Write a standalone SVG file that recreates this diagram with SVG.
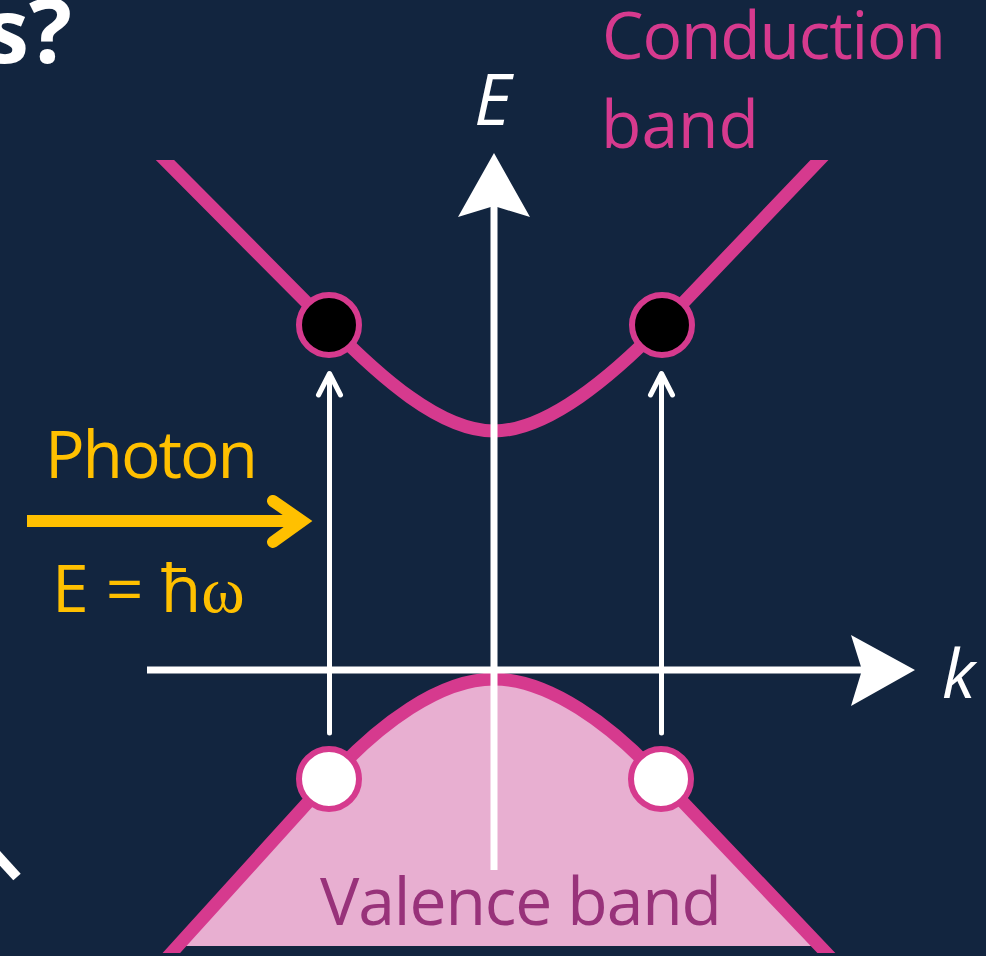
<svg xmlns="http://www.w3.org/2000/svg" width="986" height="956" viewBox="0 0 986 956">
  <style>
    .band { fill: none; stroke: #D63A8E; stroke-width: 13; stroke-linejoin: round; }
    .dot { stroke: #D63A8E; stroke-width: 6; }
    .axis { stroke: #FFFFFF; stroke-width: 7; fill: none; }
    .head { fill: #FFFFFF; stroke: none; }
    .trans { stroke: #FFFFFF; stroke-width: 5; fill: none; stroke-linecap: round; stroke-linejoin: round; }
    .lbl { font-family: "Open Sans", "Liberation Sans", sans-serif; font-size: 66px; }
    .ax { font-family: "Open Sans", "Liberation Sans", sans-serif; font-style: italic; fill: #FFFFFF; }
  </style>
  <defs>
    <clipPath id="clipTop"><rect x="0" y="160" width="986" height="796"/></clipPath>
    <clipPath id="clipBot"><rect x="0" y="0" width="986" height="953"/></clipPath>
  </defs>
  <rect width="986" height="956" fill="#12253F"/>

  <g id="title-fragment">
    <text x="72" y="63" text-anchor="end" font-family="'Open Sans', 'Liberation Sans', sans-serif" font-weight="bold" font-size="90" fill="#FFFFFF">s?</text>
    <line x1="-14" y1="843" x2="17" y2="877" stroke="#FFFFFF" stroke-width="10"/>
  </g>

  <g id="valence-band">
    <path d="M177,946 L329,779 C379,724 440,679 494,679 C548,679 611,724 661,779 L819,946 Z" fill="#E8AFD1"/>
    <path class="band" clip-path="url(#clipBot)" d="M165,960 L329,779 C379,724 440,679 494,679 C548,679 611,724 661,779 L833,960"/>
  </g>

  <g id="conduction-band">
    <path class="band" clip-path="url(#clipTop)" d="M155,150 L329,325 C379,376 440,431 494,431 C548,431 612,376 662,325 L829,150"/>
  </g>

  <g id="connectors">
    <line class="axis" x1="147" y1="670" x2="866" y2="670"/>
    <polygon class="head" points="915,670 851,635 862,670 851,706"/>
    <line class="axis" x1="494" y1="870" x2="494" y2="205"/>
    <polygon class="head" points="494,153 458,217 494,206 530,217"/>
    <line class="trans" x1="329.5" y1="733" x2="329.5" y2="376" stroke-linecap="butt"/>
    <polyline class="trans" points="318.5,395 329.5,373.5 340.5,395"/>
    <line class="trans" x1="661.5" y1="733" x2="661.5" y2="376" stroke-linecap="butt"/>
    <polyline class="trans" points="650.5,395 661.5,373.5 672.5,395"/>
    <line x1="27" y1="521" x2="300" y2="521" stroke="#FFC000" stroke-width="12"/>
    <polyline points="273,501 302,521 273,542" fill="none" stroke="#FFC000" stroke-width="12" stroke-linecap="round" stroke-linejoin="miter"/>
  </g>

  <g id="electron-left"><circle class="dot" cx="329" cy="325" r="30" fill="#000000"/></g>
  <g id="electron-right"><circle class="dot" cx="662" cy="325" r="30" fill="#000000"/></g>
  <g id="hole-left"><circle class="dot" cx="329" cy="779" r="30" fill="#FFFFFF"/></g>
  <g id="hole-right"><circle class="dot" cx="661" cy="779" r="30" fill="#FFFFFF"/></g>

  <g id="label-E"><text class="ax" x="474" y="125" font-size="72">E</text></g>
  <g id="label-k"><text class="ax" x="942" y="698" font-size="68">k</text></g>

  <g id="label-conduction">
    <text class="lbl" x="602" y="59" fill="#D63A8E" textLength="344">Conduction</text>
    <text class="lbl" x="601" y="148" fill="#D63A8E">band</text>
  </g>
  <g id="label-valence">
    <text class="lbl" x="320" y="925" fill="#98327A" textLength="402">Valence band</text>
  </g>
  <g id="photon">
    <text class="lbl" x="45" y="478" font-size="64" fill="#FFC000" textLength="213">Photon</text>
    <text class="lbl" x="52" y="612" font-size="64" fill="#FFC000">E = ħ<tspan font-family="'Liberation Serif', 'DejaVu Serif', serif">ω</tspan></text>
  </g>
</svg>
